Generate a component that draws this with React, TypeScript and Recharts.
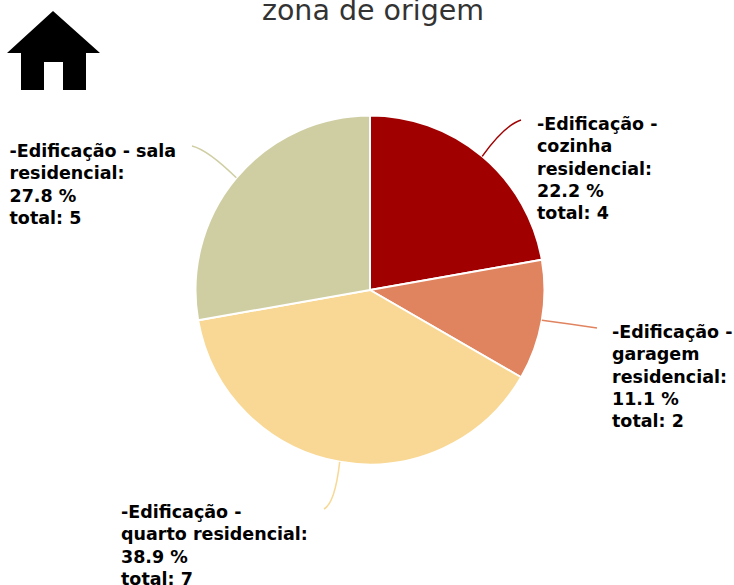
import React from 'react';
import { PieChart, Pie, Cell } from 'recharts';

const rooms = ['cozinha', 'garagem', 'quarto', 'sala'];
const totals = [4, 2, 7, 5];
const percents = ['22.2 %', '11.1 %', '38.9 %', '27.8 %'];
const labelNames = [
  ['-Edificação -', 'cozinha', 'residencial:'],
  ['-Edificação -', 'garagem', 'residencial:'],
  ['-Edificação -', 'quarto residencial:'],
  ['-Edificação - sala', 'residencial:'],
];
const colors = ['#a10000', '#e0835f', '#f8d894', '#cfcea3'];

const data = rooms.map((room, i) => ({ name: room, value: totals[i] }));

// where each label and its connector sit, relative to the pie centre
const labelBox = [
  { x: 167, y: -160 },
  { x: 242, y: 48 },
  { x: -249, y: 228 },
  { x: -360.5, y: -133 },
];
const lineEnd = [
  { x: 151, y: -170, cx: 135, cy: -165 },
  { x: 227, y: 38, cx: 200, cy: 34 },
  { x: -46, y: 219, cx: -35, cy: 213 },
  { x: -178, y: -144, cx: -162, cy: -140 },
];

const RAD = Math.PI / 180;

const renderLabel = (props: any) => {
  const { cx, cy, index } = props;
  const box = labelBox[index];
  const lines = [...labelNames[index], percents[index], `total: ${totals[index]}`];
  return (
    <text
      x={cx + box.x}
      y={cy + box.y}
      fontFamily="DejaVu Sans"
      fontWeight="bold"
      fontSize={17.5}
      fill="#000"
      stroke="none"
      textAnchor="start"
    >
      {lines.map((line, i) => (
        <tspan key={i} x={cx + box.x} dy={i === 0 ? 0 : 22.3}>
          {line}
        </tspan>
      ))}
    </text>
  );
};

const renderLine = (props: any) => {
  const { cx, cy, midAngle, outerRadius, index } = props;
  const end = lineEnd[index];
  const sx = cx + outerRadius * Math.cos(midAngle * RAD);
  const sy = cy - outerRadius * Math.sin(midAngle * RAD);
  return (
    <path
      d={`M${sx},${sy} Q${cx + end.cx},${cy + end.cy} ${cx + end.x},${cy + end.y}`}
      stroke={colors[index]}
      strokeWidth={1.5}
      fill="none"
    />
  );
};

export default function App() {
  return (
    <div style={{ position: 'absolute', left: 0, top: 0, width: 734, height: 585, background: '#fff', overflow: 'hidden' }}>
      <PieChart width={734} height={585} margin={{ top: 0, right: 0, bottom: 0, left: 0 }}>
        <text x={373} y={20} textAnchor="middle" fontFamily="DejaVu Sans" fontSize={28.5} fill="#333333">
          zona de origem
        </text>
        <Pie
          data={data}
          dataKey="value"
          cx={370}
          cy={290}
          outerRadius={174.5}
          startAngle={90}
          endAngle={-270}
          stroke="#ffffff"
          strokeWidth={2}
          label={renderLabel}
          labelLine={renderLine}
          isAnimationActive={false}
        >
          {data.map((d, i) => (
            <Cell key={d.name} fill={colors[i]} />
          ))}
        </Pie>
      </PieChart>
      <svg width={110} height={100} style={{ position: 'absolute', left: 0, top: 0 }}>
        <path d="M53,11 L100,53 L86,53 L86,90 L63,90 L63,62 L44,62 L44,90 L21,90 L21,53 L7,53 Z" fill="#000" />
      </svg>
    </div>
  );
}
